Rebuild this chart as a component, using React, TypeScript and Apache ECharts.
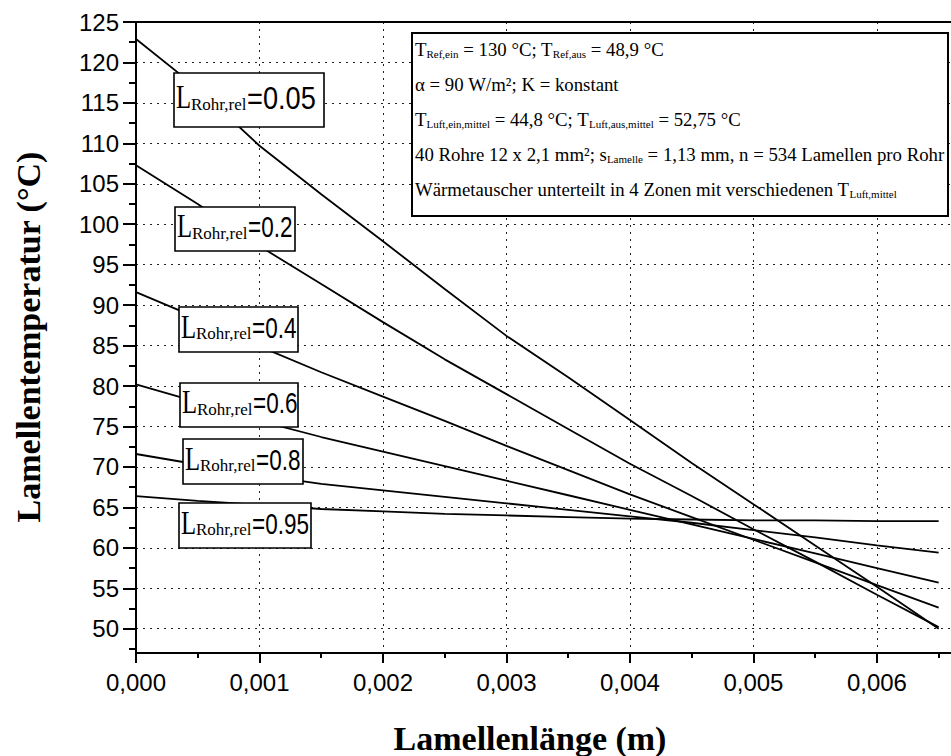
import React, { useEffect, useRef } from 'react';
import * as echarts from 'echarts';

// Lamellenlänge (m)
const lamellaX = [0, 0.0005, 0.001, 0.0015, 0.002, 0.0025, 0.003, 0.0035, 0.004, 0.0045, 0.005, 0.0055, 0.006, 0.0065];
// Lamellentemperatur (°C) per L_Rohr,rel
const tempL005 = [122.9, 116.8, 109.7, 103.7, 97.9, 92.0, 86.2, 81.1, 75.8, 70.5, 65.4, 60.3, 55.2, 50.0];
const tempL02 = [107.3, 102.5, 97.3, 92.6, 87.9, 83.3, 79.0, 74.7, 70.4, 66.4, 62.3, 58.3, 54.2, 50.2];
const tempL04 = [91.6, 88.4, 84.9, 81.7, 78.7, 75.7, 72.6, 69.6, 66.6, 63.8, 61.0, 58.2, 55.4, 52.6];
const tempL06 = [80.2, 78.0, 75.7, 73.7, 71.9, 70.1, 68.3, 66.5, 64.7, 62.9, 61.1, 59.3, 57.5, 55.7];
const tempL08 = [71.6, 70.3, 69.0, 67.9, 67.1, 66.3, 65.5, 64.7, 63.9, 63.1, 62.2, 61.3, 60.3, 59.4];
const tempL095 = [66.4, 65.8, 65.3, 64.8, 64.5, 64.2, 64.0, 63.8, 63.6, 63.5, 63.4, 63.4, 63.3, 63.3];
const lRohrRel = ['0.05', '0.2', '0.4', '0.6', '0.8', '0.95'];
const seriesTemps = [tempL005, tempL02, tempL04, tempL06, tempL08, tempL095];

const xTicks = [0, 0.001, 0.002, 0.003, 0.004, 0.005, 0.006];
const xMinorTicks = [0.0005, 0.0015, 0.0025, 0.0035, 0.0045, 0.0055, 0.0065];
const yTicks = [50, 55, 60, 65, 70, 75, 80, 85, 90, 95, 100, 105, 110, 115, 120, 125];
const yMinorTicks = [47.5, 52.5, 57.5, 62.5, 67.5, 72.5, 77.5, 82.5, 87.5, 92.5, 97.5, 102.5, 107.5, 112.5, 117.5, 122.5];

const xTitle = 'Lamellenlänge (m)';
const yTitle = 'Lamellentemperatur (°C)';
const infoLines = [
  '{n|T}{s|Ref,ein}{n| = 130 °C; T}{s|Ref,aus}{n| = 48,9 °C}',
  '{n|α = 90 W/m²; K = konstant}',
  '{n|T}{s|Luft,ein,mittel}{n| = 44,8 °C; T}{s|Luft,aus,mittel}{n| = 52,75 °C}',
  '{n|40 Rohre 12 x 2,1 mm²; s}{s|Lamelle}{n| = 1,13 mm, n = 534 Lamellen pro Rohr}',
  '{n|Wärmetauscher unterteilt in 4 Zonen mit verschiedenen T}{s|Luft,mittel}',
];

const X_MIN = 0;
const X_MAX = 0.0066;
const Y_MIN = 47;
const Y_MAX = 125;

const SERIF = '"Liberation Serif", "Times New Roman", serif';
const SANS = '"Liberation Sans", Arial, sans-serif';

function buildLabelBox(name: string, bx: number, by: number, bw: number, bh: number, vSize: number, vScale: number) {
  const base = by + bh / 2 + 8;
  return [
    {
      type: 'rect', z: 100,
      shape: { x: bx, y: by, width: bw, height: bh },
      style: { fill: '#fff', stroke: '#000', lineWidth: 1.6 },
    },
    {
      type: 'text', z: 101, x: bx + 2, y: base - 0.33 * 33, scaleX: 0.75,
      style: { text: 'L', fontFamily: SERIF, fontSize: 33, fill: '#000', align: 'left', verticalAlign: 'middle' },
    },
    {
      type: 'text', z: 101, x: bx + 17, y: base + 2 - 0.33 * 17,
      style: { text: 'Rohr,rel', fontFamily: SERIF, fontSize: 17, fill: '#000', align: 'left', verticalAlign: 'middle' },
    },
    {
      type: 'text', z: 101, x: bx + 73, y: base - 0.33 * vSize, scaleX: vScale,
      style: { text: '=' + name, fontFamily: SANS, fontSize: vSize, fill: '#000', align: 'left', verticalAlign: 'middle' },
    },
  ];
}

export default function App() {
  const ref = useRef<HTMLDivElement>(null);
  useEffect(() => {
    document.body.style.margin = '0';
    if (!ref.current) return;
    const chart = echarts.init(ref.current, undefined, { renderer: 'svg' });

    const boxes = [
      { bx: 174, by: 73, bw: 150, bh: 54, vs: 32, sc: 0.85 },
      { bx: 175, by: 207, bw: 120, bh: 44, vs: 30, sc: 0.75 },
      { bx: 179, by: 307, bw: 119, bh: 45, vs: 30, sc: 0.75 },
      { bx: 180, by: 383, bw: 118, bh: 44, vs: 30, sc: 0.75 },
      { bx: 183, by: 439, bw: 120, bh: 45, vs: 30, sc: 0.75 },
      { bx: 179, by: 503, bw: 132, bh: 45, vs: 30, sc: 0.75 },
    ];
    const labelEls: any[] = [];
    lRohrRel.forEach((name, i) => {
      const b = boxes[i];
      labelEls.push(...buildLabelBox(name, b.bx, b.by, b.bw, b.bh, b.vs, b.sc));
    });

    const infoY = [48, 83, 118, 153, 188];
    const infoEls = infoLines.map((t, i) => ({
      type: 'text', z: 101, x: 415, y: infoY[i],
      style: {
        text: t, align: 'left', verticalAlign: 'middle', fill: '#000',
        rich: {
          n: { fontFamily: SERIF, fontSize: 18.8, lineHeight: 22, verticalAlign: 'bottom', color: '#000' },
          s: { fontFamily: SERIF, fontSize: 11, lineHeight: 9, verticalAlign: 'bottom', color: '#000' },
        },
      },
    }));

    const axisLineStyle = { color: '#000', width: 2 };

    chart.setOption({
      animation: false,
      backgroundColor: '#fff',
      grid: { left: 136, top: 22, width: 817, height: 631, show: false },
      xAxis: [
        {
          type: 'value', min: X_MIN, max: X_MAX, position: 'bottom',
          axisLine: { show: true, onZero: false, lineStyle: axisLineStyle },
          axisTick: { show: true, customValues: xTicks, length: 10, lineStyle: axisLineStyle },
          axisLabel: {
            customValues: xTicks, color: '#000', fontFamily: SANS, fontSize: 24, margin: 17,
            formatter: (v: number) => v.toFixed(3).replace('.', ','),
          },
          splitLine: { show: true, lineStyle: { color: '#222', type: [2, 5], width: 1 } },
        },
        {
          type: 'value', min: X_MIN, max: X_MAX, position: 'bottom',
          axisLine: { show: false, onZero: false },
          axisTick: { show: true, customValues: xMinorTicks, length: 5, lineStyle: axisLineStyle },
          axisLabel: { show: false },
          splitLine: { show: false },
        },
        {
          type: 'value', min: X_MIN, max: X_MAX, position: 'top',
          axisLine: { show: true, onZero: false, lineStyle: axisLineStyle },
          axisTick: { show: false },
          axisLabel: { show: false },
          splitLine: { show: false },
        },
      ],
      yAxis: [
        {
          type: 'value', min: Y_MIN, max: Y_MAX, position: 'left',
          axisLine: { show: true, onZero: false, lineStyle: axisLineStyle },
          axisTick: { show: true, customValues: yTicks, length: 13, lineStyle: axisLineStyle },
          axisLabel: { customValues: yTicks, color: '#000', fontFamily: SANS, fontSize: 24, margin: 17 },
          splitLine: { show: true, lineStyle: { color: '#222', type: [2, 5], width: 1 } },
        },
        {
          type: 'value', min: Y_MIN, max: Y_MAX, position: 'left',
          axisLine: { show: false, onZero: false },
          axisTick: { show: true, customValues: yMinorTicks, length: 7, lineStyle: axisLineStyle },
          axisLabel: { show: false },
          splitLine: { show: false },
        },
      ],
      series: lRohrRel.map((name, i) => ({
        name: 'L_Rohr,rel=' + name,
        type: 'line',
        xAxisIndex: 0,
        yAxisIndex: 0,
        showSymbol: false,
        symbol: 'none',
        lineStyle: { color: '#000', width: 1.8 },
        data: lamellaX.map((x, j) => [x, seriesTemps[i][j]]),
        z: 5,
      })),
      graphic: [
        {
          type: 'rect', z: 100,
          shape: { x: 412, y: 33, width: 536, height: 183 },
          style: { fill: '#fff', stroke: '#000', lineWidth: 2 },
        },
        ...infoEls,
        ...labelEls,
        {
          type: 'text', z: 101, x: 530, y: 738,
          style: { text: xTitle, fontFamily: SERIF, fontWeight: 'bold', fontSize: 34, fill: '#000', align: 'center', verticalAlign: 'middle' },
        },
        {
          type: 'text', z: 101, x: 28, y: 337, rotation: Math.PI / 2,
          style: { text: yTitle, fontFamily: SERIF, fontWeight: 'bold', fontSize: 34, fill: '#000', align: 'center', verticalAlign: 'middle' },
        },
      ],
    });
    return () => chart.dispose();
  }, []);
  return <div ref={ref} style={{ width: 951, height: 756 }} />;
}
